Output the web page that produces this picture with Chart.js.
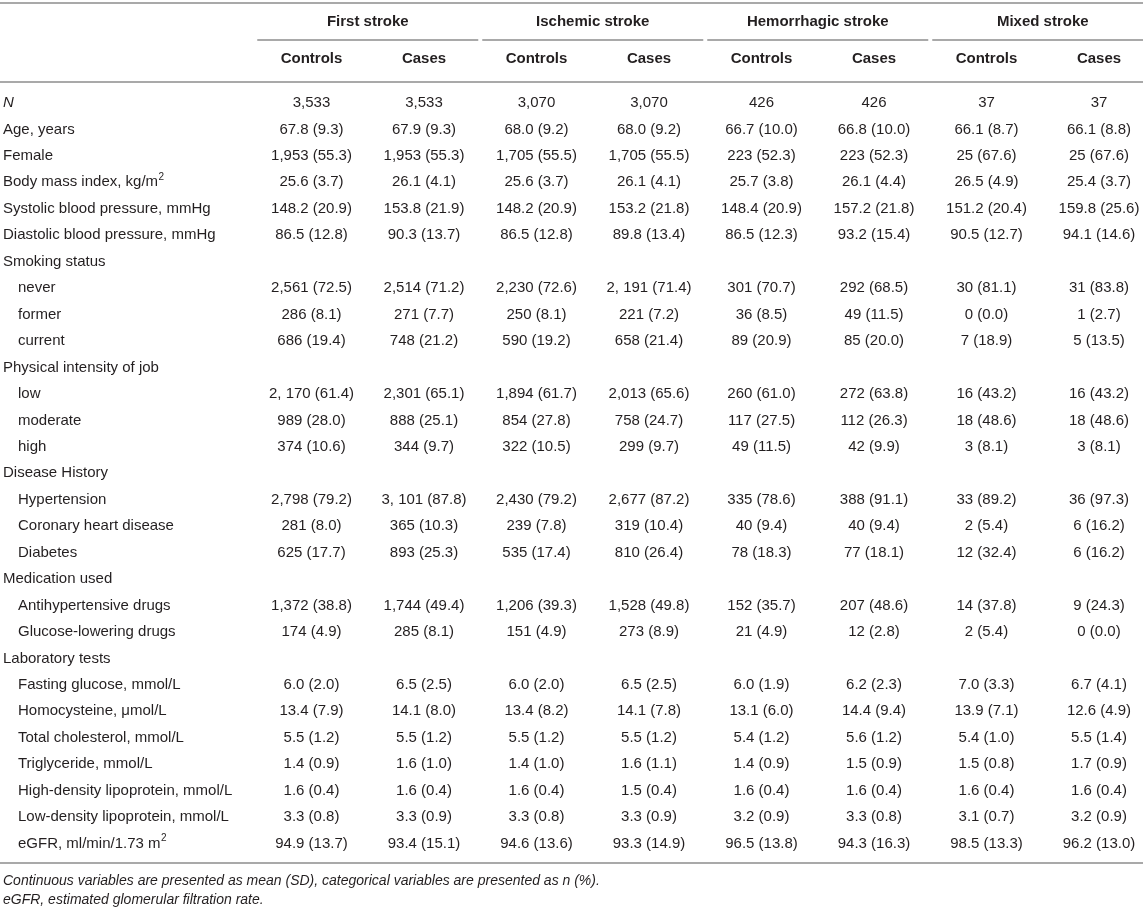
<!DOCTYPE html>
<html>
<head>
<meta charset="utf-8">
<script src="https://cdn.jsdelivr.net/npm/chart.js@4/dist/chart.umd.min.js"></script>
<style>
  html, body { margin: 0; padding: 0; background: #ffffff; }
  #wrap { width: 1143px; height: 911px; position: relative; }
</style>
</head>
<body>
<div id="wrap"><canvas id="c"></canvas></div>
<script>
// ---------- DATA ----------
const groups = ['First stroke', 'Ischemic stroke', 'Hemorrhagic stroke', 'Mixed stroke'];
const subHeaders = ['Controls', 'Cases'];

const rowLabels = [
  'N', 'Age, years', 'Female', 'Body mass index, kg/m^2', 'Systolic blood pressure, mmHg',
  'Diastolic blood pressure, mmHg', 'Smoking status', 'never', 'former', 'current',
  'Physical intensity of job', 'low', 'moderate', 'high', 'Disease History',
  'Hypertension', 'Coronary heart disease', 'Diabetes', 'Medication used',
  'Antihypertensive drugs', 'Glucose-lowering drugs', 'Laboratory tests',
  'Fasting glucose, mmol/L', 'Homocysteine, \u03bcmol/L', 'Total cholesterol, mmol/L',
  'Triglyceride, mmol/L', 'High-density lipoprotein, mmol/L', 'Low-density lipoprotein, mmol/L',
  'eGFR, ml/min/1.73 m^2'
];
const indentedRows = [7, 8, 9, 11, 12, 13, 15, 16, 17, 19, 20, 22, 23, 24, 25, 26, 27, 28];
const italicRows = [0];

const firstControls = ['3,533','67.8 (9.3)','1,953 (55.3)','25.6 (3.7)','148.2 (20.9)','86.5 (12.8)','','2,561 (72.5)','286 (8.1)','686 (19.4)','','2, 170 (61.4)','989 (28.0)','374 (10.6)','','2,798 (79.2)','281 (8.0)','625 (17.7)','','1,372 (38.8)','174 (4.9)','','6.0 (2.0)','13.4 (7.9)','5.5 (1.2)','1.4 (0.9)','1.6 (0.4)','3.3 (0.8)','94.9 (13.7)'];
const firstCases = ['3,533','67.9 (9.3)','1,953 (55.3)','26.1 (4.1)','153.8 (21.9)','90.3 (13.7)','','2,514 (71.2)','271 (7.7)','748 (21.2)','','2,301 (65.1)','888 (25.1)','344 (9.7)','','3, 101 (87.8)','365 (10.3)','893 (25.3)','','1,744 (49.4)','285 (8.1)','','6.5 (2.5)','14.1 (8.0)','5.5 (1.2)','1.6 (1.0)','1.6 (0.4)','3.3 (0.9)','93.4 (15.1)'];
const ischemicControls = ['3,070','68.0 (9.2)','1,705 (55.5)','25.6 (3.7)','148.2 (20.9)','86.5 (12.8)','','2,230 (72.6)','250 (8.1)','590 (19.2)','','1,894 (61.7)','854 (27.8)','322 (10.5)','','2,430 (79.2)','239 (7.8)','535 (17.4)','','1,206 (39.3)','151 (4.9)','','6.0 (2.0)','13.4 (8.2)','5.5 (1.2)','1.4 (1.0)','1.6 (0.4)','3.3 (0.8)','94.6 (13.6)'];
const ischemicCases = ['3,070','68.0 (9.2)','1,705 (55.5)','26.1 (4.1)','153.2 (21.8)','89.8 (13.4)','','2, 191 (71.4)','221 (7.2)','658 (21.4)','','2,013 (65.6)','758 (24.7)','299 (9.7)','','2,677 (87.2)','319 (10.4)','810 (26.4)','','1,528 (49.8)','273 (8.9)','','6.5 (2.5)','14.1 (7.8)','5.5 (1.2)','1.6 (1.1)','1.5 (0.4)','3.3 (0.9)','93.3 (14.9)'];
const hemorrhagicControls = ['426','66.7 (10.0)','223 (52.3)','25.7 (3.8)','148.4 (20.9)','86.5 (12.3)','','301 (70.7)','36 (8.5)','89 (20.9)','','260 (61.0)','117 (27.5)','49 (11.5)','','335 (78.6)','40 (9.4)','78 (18.3)','','152 (35.7)','21 (4.9)','','6.0 (1.9)','13.1 (6.0)','5.4 (1.2)','1.4 (0.9)','1.6 (0.4)','3.2 (0.9)','96.5 (13.8)'];
const hemorrhagicCases = ['426','66.8 (10.0)','223 (52.3)','26.1 (4.4)','157.2 (21.8)','93.2 (15.4)','','292 (68.5)','49 (11.5)','85 (20.0)','','272 (63.8)','112 (26.3)','42 (9.9)','','388 (91.1)','40 (9.4)','77 (18.1)','','207 (48.6)','12 (2.8)','','6.2 (2.3)','14.4 (9.4)','5.6 (1.2)','1.5 (0.9)','1.6 (0.4)','3.3 (0.8)','94.3 (16.3)'];
const mixedControls = ['37','66.1 (8.7)','25 (67.6)','26.5 (4.9)','151.2 (20.4)','90.5 (12.7)','','30 (81.1)','0 (0.0)','7 (18.9)','','16 (43.2)','18 (48.6)','3 (8.1)','','33 (89.2)','2 (5.4)','12 (32.4)','','14 (37.8)','2 (5.4)','','7.0 (3.3)','13.9 (7.1)','5.4 (1.0)','1.5 (0.8)','1.6 (0.4)','3.1 (0.7)','98.5 (13.3)'];
const mixedCases = ['37','66.1 (8.8)','25 (67.6)','25.4 (3.7)','159.8 (25.6)','94.1 (14.6)','','31 (83.8)','1 (2.7)','5 (13.5)','','16 (43.2)','18 (48.6)','3 (8.1)','','36 (97.3)','6 (16.2)','6 (16.2)','','9 (24.3)','0 (0.0)','','6.7 (4.1)','12.6 (4.9)','5.5 (1.4)','1.7 (0.9)','1.6 (0.4)','3.2 (0.9)','96.2 (13.0)'];

const footnotes = [
  'Continuous variables are presented as mean (SD), categorical variables are presented as n (%).',
  'eGFR, estimated glomerular filtration rate.'
];

const columns = [firstControls, firstCases, ischemicControls, ischemicCases,
                 hemorrhagicControls, hemorrhagicCases, mixedControls, mixedCases];

// ---------- LAYOUT (row / column units on the chart scales) ----------
const Y_MIN = -3.894, Y_MAX = 30.548;
const X_MIN = -2.769, X_MAX = 7.391;
const TOP_RULE = -3.78, GROUP_TITLE = -3.07, GROUP_RULE = -2.40, SUB_HEAD = -1.67, HEAD_RULE = -0.81;
const BOTTOM_RULE = 28.73, NOTE1 = 29.42, NOTE2 = 30.14;

const FONT = '"Liberation Sans", Arial, Helvetica, sans-serif';
const TEXT = '#231f20';
const RULE = '#a9a9a9';

function drawRich(ctx, text, x, y, size, style) {
  // supports "^2" superscript
  const parts = text.split('^');
  ctx.textAlign = 'left';
  ctx.font = style + ' ' + size + 'px ' + FONT;
  ctx.fillText(parts[0], x, y);
  if (parts.length > 1) {
    const w = ctx.measureText(parts[0]).width;
    ctx.font = style + ' ' + Math.round(size * 0.68) + 'px ' + FONT;
    ctx.fillText(parts[1], x + w + 0.5, y - size * 0.36);
  }
}

const tablePlugin = {
  id: 'tablePlugin',
  afterDatasetsDraw(chart) {
    const ctx = chart.ctx;
    const xs = chart.scales.x, ys = chart.scales.y;
    const area = chart.chartArea;
    ctx.save();
    // rules
    ctx.strokeStyle = RULE;
    ctx.lineWidth = 2;
    const hline = (v, x0, x1) => {
      const y = Math.round(ys.getPixelForValue(v));
      ctx.beginPath(); ctx.moveTo(x0, y); ctx.lineTo(x1, y); ctx.stroke();
    };
    hline(TOP_RULE, area.left, area.right);
    hline(HEAD_RULE, area.left, area.right);
    hline(BOTTOM_RULE, area.left, area.right);
    groups.forEach((g, i) => {
      const x0 = xs.getPixelForValue(2 * i - 0.5) + 2;
      const x1 = Math.min(xs.getPixelForValue(2 * i + 1.5) - 2, area.right);
      hline(GROUP_RULE, x0, x1);
    });

    ctx.fillStyle = TEXT;
    ctx.textBaseline = 'middle';
    // group titles
    ctx.textAlign = 'center';
    ctx.font = 'bold 15px ' + FONT;
    groups.forEach((g, i) => {
      ctx.fillText(g, xs.getPixelForValue(2 * i + 0.5), ys.getPixelForValue(GROUP_TITLE));
    });
    // sub headers
    columns.forEach((col, c) => {
      ctx.fillText(subHeaders[c % 2], xs.getPixelForValue(c), ys.getPixelForValue(SUB_HEAD));
    });
    // row labels
    rowLabels.forEach((lab, r) => {
      const x = area.left + (indentedRows.includes(r) ? 18 : 3);
      drawRich(ctx, lab, x, ys.getPixelForValue(r), 15, italicRows.includes(r) ? 'italic' : 'normal');
    });
    // cells
    ctx.font = '15px ' + FONT;
    ctx.textAlign = 'center';
    chart.data.datasets.forEach((ds, di) => {
      const meta = chart.getDatasetMeta(di);
      meta.data.forEach((pt, i) => {
        ctx.fillText(ds.data[i].label, pt.x, pt.y);
      });
    });
    // footnotes
    ctx.font = 'italic 14px ' + FONT;
    ctx.textAlign = 'left';
    ctx.fillText(footnotes[0], area.left + 3, ys.getPixelForValue(NOTE1));
    ctx.fillText(footnotes[1], area.left + 3, ys.getPixelForValue(NOTE2));
    ctx.restore();
  }
};

const datasets = columns.map((col, c) => ({
  label: groups[Math.floor(c / 2)] + ' ' + subHeaders[c % 2],
  data: col.map((v, r) => ({ x: c, y: r, label: v })).filter(d => d.label !== ''),
  pointRadius: 0,
  pointHoverRadius: 0,
  showLine: false
}));

new Chart(document.getElementById('c'), {
  type: 'scatter',
  data: { datasets },
  options: {
    responsive: true,
    maintainAspectRatio: false,
    animation: false,
    layout: { padding: 0 },
    plugins: { legend: { display: false }, tooltip: { enabled: false } },
    scales: {
      x: { type: 'linear', min: X_MIN, max: X_MAX, display: false },
      y: { type: 'linear', min: Y_MIN, max: Y_MAX, reverse: true, display: false }
    }
  },
  plugins: [tablePlugin]
});
</script>
</body>
</html>
